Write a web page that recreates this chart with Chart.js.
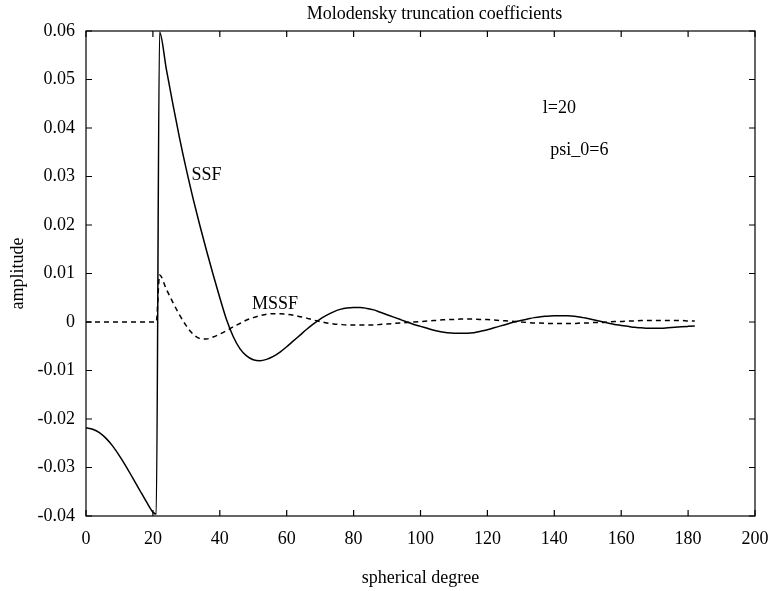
<!DOCTYPE html>
<html>
<head>
<meta charset="utf-8">
<script src="https://cdn.jsdelivr.net/npm/chart.js@4.4.1/dist/chart.umd.min.js"></script>
<style>
html, body { margin: 0; padding: 0; background: #fff; }
</style>
</head>
<body>
<canvas id="grafico" width="770" height="591"></canvas>
<script>
// =========================================
// DATOS
// =========================================
const grados = [0,2,4,6,8,10,12,14,16,18,20,21,
  22,24,26,28,30,32,34,36,38,40,42,44,46,48,50,52,
  54,56,58,60,62,64,66,68,70,72,
  74,76,78,80,82,84,86,88,90,92,
  94,96,98,100,102,104,106,108,110,112,
  114,116,118,120,122,124,126,128,130,132,
  134,136,138,140,142,144,146,148,150,152,
  154,156,158,160,162,164,166,168,170,172,
  174,176,178,180,182];

const ssf = [-0.0218,-0.0221,-0.0228,-0.0240,-0.0256,-0.0276,-0.0298,-0.0322,-0.0346,-0.0370,-0.0392,-0.0396,
  0.0598,0.0522,0.0448,0.0378,0.0314,0.0255,0.0200,0.0148,0.0098,0.0050,0.0005,-0.0030,-0.0055,-0.0070,-0.0078,-0.0080,
  -0.0077,-0.0071,-0.0062,-0.0051,-0.0039,-0.0027,-0.0015,-0.0004,0.0006,0.0014,
  0.0021,0.0026,0.0029,0.0030,0.0030,0.0028,0.0025,0.0020,0.0015,0.0010,
  0.0005,0.0000,-0.0005,-0.0009,-0.0013,-0.0017,-0.0020,-0.0022,-0.0023,-0.0023,
  -0.0023,-0.0022,-0.0019,-0.0016,-0.0012,-0.0008,-0.0004,0.0000,0.0003,0.0006,
  0.0009,0.0011,0.0012,0.0013,0.0013,0.0013,0.0012,0.0010,0.0007,0.0004,
  0.0001,-0.0002,-0.0005,-0.0007,-0.0009,-0.0011,-0.0012,-0.0013,-0.0013,-0.0013,
  -0.0012,-0.0011,-0.0010,-0.0009,-0.0008];

const mssf = [0,0,0,0,0,0,0,0,0,0,0,0,
  0.0097,0.0068,0.0040,0.0014,-0.0008,-0.0025,-0.0034,-0.0035,-0.0031,-0.0025,-0.0018,-0.0010,-0.0003,0.0004,0.0009,0.0013,
  0.0016,0.0017,0.0017,0.0016,0.0014,0.0011,0.0008,0.0004,0.0001,-0.0002,
  -0.0004,-0.0005,-0.0006,-0.0006,-0.0006,-0.0006,-0.0006,-0.0005,-0.0004,-0.0003,
  -0.0002,-0.0001,0.0000,0.0001,0.0002,0.0003,0.0004,0.0005,0.0005,0.0006,
  0.0006,0.0006,0.0005,0.0005,0.0004,0.0003,0.0002,0.0001,0.0000,-0.0001,
  -0.0002,-0.0002,-0.0003,-0.0003,-0.0003,-0.0003,-0.0003,-0.0002,-0.0002,-0.0001,
  -0.0001,0.0000,0.0001,0.0001,0.0002,0.0002,0.0003,0.0003,0.0003,0.0003,
  0.0003,0.0003,0.0003,0.0002,0.0002];

const xTicks = [0,20,40,60,80,100,120,140,160,180,200];
const yTicks = [-0.04,-0.03,-0.02,-0.01,0,0.01,0.02,0.03,0.04,0.05,0.06];

const titulo = 'Molodensky truncation coefficients';

// textos dentro del grafico (en unidades de datos)
const notas = [
  { texto: 'SSF', x: 36, y: 0.0303 },
  { texto: 'MSSF', x: 56.5, y: 0.0036 },
  { texto: 'l=20', x: 141.5, y: 0.0440 },
  { texto: 'psi_0=6', x: 147.5, y: 0.0355 }
];

const FUENTE = '"Liberation Serif", "Times New Roman", serif';

// =========================================
// MARCO, TICKS HACIA DENTRO Y TEXTOS
// =========================================
const marco = {
  id: 'marco',
  afterDraw(chart) {
    const { ctx, chartArea: a, scales: { x, y } } = chart;
    ctx.save();
    ctx.strokeStyle = '#000';
    ctx.lineWidth = 1.2;
    ctx.strokeRect(a.left, a.top, a.right - a.left, a.bottom - a.top);

    ctx.beginPath();
    x.ticks.forEach(t => {
      const px = x.getPixelForValue(t.value);
      ctx.moveTo(px, a.bottom); ctx.lineTo(px, a.bottom - 6);
      ctx.moveTo(px, a.top); ctx.lineTo(px, a.top + 6);
    });
    y.ticks.forEach(t => {
      const py = y.getPixelForValue(t.value);
      ctx.moveTo(a.left, py); ctx.lineTo(a.left + 6, py);
      ctx.moveTo(a.right, py); ctx.lineTo(a.right - 6, py);
    });
    ctx.stroke();

    ctx.fillStyle = '#000';
    ctx.textAlign = 'center';
    ctx.textBaseline = 'middle';
    ctx.font = '18px ' + FUENTE;
    ctx.fillText(titulo, (a.left + a.right) / 2 + 14, 14);

    notas.forEach(n => {
      ctx.fillText(n.texto, x.getPixelForValue(n.x), y.getPixelForValue(n.y));
    });
    ctx.restore();
  }
};

// =========================================
// GRAFICO
// =========================================
new Chart(document.getElementById('grafico'), {

  type: 'line',

  data: {
    datasets: [{
      label: 'SSF',
      data: grados.map((g, i) => ({ x: g, y: ssf[i] })),
      borderColor: '#000',
      borderWidth: 1.5,
      pointRadius: 0,
      cubicInterpolationMode: 'monotone'
    }, {
      label: 'MSSF',
      data: grados.map((g, i) => ({ x: g, y: mssf[i] })),
      borderColor: '#000',
      borderWidth: 1.5,
      borderDash: [5, 4],
      pointRadius: 0,
      cubicInterpolationMode: 'monotone'
    }]
  },

  options: {
    responsive: false,
    animation: false,
    devicePixelRatio: 1,
    layout: { padding: { top: 31, right: 15, bottom: 0, left: 0 } },
    plugins: {
      legend: { display: false },
      tooltip: { enabled: false }
    },
    scales: {
      x: {
        type: 'linear',
        min: 0,
        max: 200,
        afterBuildTicks: s => { s.ticks = xTicks.map(v => ({ value: v })); },
        afterFit: s => { s.height = 75; s.paddingLeft = 0; s.paddingRight = 0; },
        grid: { display: false },
        border: { display: false },
        ticks: {
          color: '#000',
          padding: 4,
          maxRotation: 0,
          font: { family: FUENTE, size: 18 },
          callback: v => String(v)
        },
        title: {
          display: true,
          text: 'spherical degree',
          color: '#000',
          font: { family: FUENTE, size: 18 },
          padding: { top: 0, bottom: 2 }
        }
      },
      y: {
        min: -0.04,
        max: 0.06,
        afterBuildTicks: s => { s.ticks = yTicks.map(v => ({ value: v })); },
        afterFit: s => { s.width = 86; },
        grid: { display: false },
        border: { display: false },
        ticks: {
          color: '#000',
          padding: 3,
          font: { family: FUENTE, size: 18 },
          callback: v => (Math.abs(v) < 1e-9 ? '0' : v.toFixed(2))
        },
        title: {
          display: true,
          text: 'amplitude',
          color: '#000',
          font: { family: FUENTE, size: 18 },
          padding: { top: 7, bottom: 0 }
        }
      }
    }
  },

  plugins: [marco]

});
</script>
</body>
</html>
